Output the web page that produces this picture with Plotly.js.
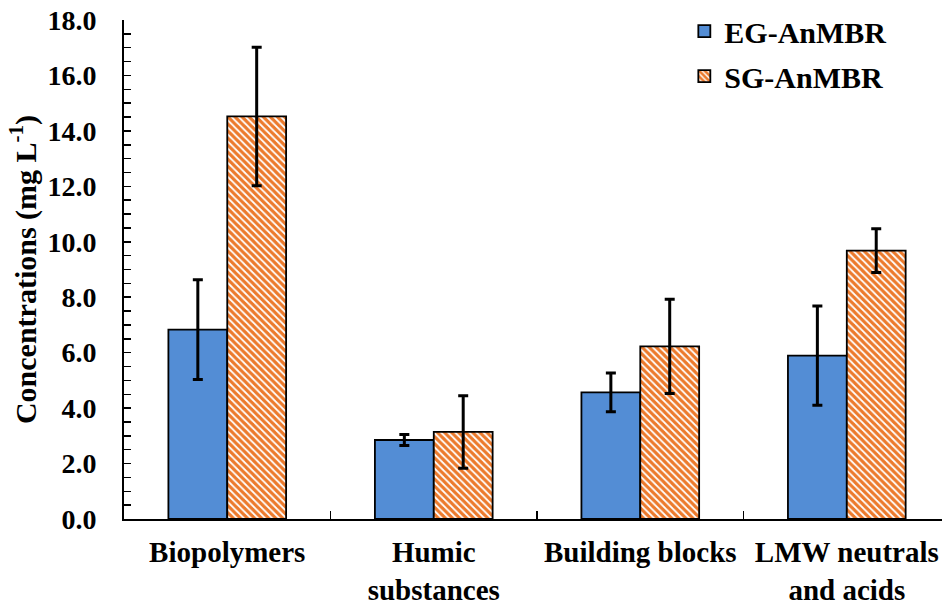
<!DOCTYPE html>
<html>
<head>
<meta charset="utf-8">
<script src="https://cdn.plot.ly/plotly-3.0.1.min.js"></script>
<style>html,body{margin:0;padding:0;background:#fff;}#chart{width:942px;height:603px;}</style>
</head>
<body>
<div id="chart"></div>
<script>
const categories = ["Biopolymers", "Humic<br>substances", "Building blocks", "LMW neutrals<br>and acids"];
const seriesNames = ["EG-AnMBR", "SG-AnMBR"];
const egValues = [6.83, 2.85, 4.57, 5.89];
const egErrors = [1.80, 0.20, 0.70, 1.79];
const sgValues = [14.52, 3.14, 6.23, 9.68];
const sgErrors = [2.50, 1.31, 1.70, 0.79];
const yTicks = [0, 2, 4, 6, 8, 10, 12, 14, 16, 18];

const FONT = "Liberation Serif, Times New Roman, serif";

const traces = [
  {
    type: "bar", name: seriesNames[0], x: categories, y: egValues,
    marker: {color: "#538DD5", line: {color: "#000", width: 1.8}},
    error_y: {type: "data", array: egErrors, visible: true, color: "#000", thickness: 3, width: 5},
    legendgroup: "a"
  },
  {
    type: "bar", name: seriesNames[1], x: categories, y: sgValues,
    marker: {color: "#ED7D31", line: {color: "#000", width: 1.8},
      pattern: {shape: "\\", fgcolor: "#EC7A2C", bgcolor: "#FFFFFF", size: 5, solidity: 0.65}},
    error_y: {type: "data", array: sgErrors, visible: true, color: "#000", thickness: 3, width: 5},
    legendgroup: "b"
  }
];

const layout = {
  width: 942, height: 603,
  margin: {l: 124, r: 0, t: 20, b: 84},
  paper_bgcolor: "#fff", plot_bgcolor: "#fff",
  barmode: "group", bargap: 0.43, bargroupgap: 0,
  font: {family: FONT, color: "#000", size: 28, weight: "bold"},
  showlegend: true,
  legend: {x: 0.685, y: 1.03, xanchor: "left", yanchor: "top", bgcolor: "rgba(0,0,0,0)",
    font: {family: FONT, size: 30, weight: "bold", color: "#000"},
    traceorder: "grouped", tracegroupgap: 3, itemwidth: 30},
  xaxis: {
    type: "category", range: [-0.5, 3.461], tickson: "boundaries",
    ticks: "inside", ticklen: 8, tickwidth: 1.5, tickcolor: "#000",
    showline: true, linecolor: "#000", linewidth: 2, showgrid: false, zeroline: false,
    tickfont: {family: FONT, size: 29, weight: "bold", color: "#000"},
    ticklabelstandoff: 6
  },
  yaxis: {
    range: [0, 18], tickvals: yTicks, tickformat: ".1f",
    ticks: "inside", ticklen: 7, tickwidth: 1.5, tickcolor: "#000",
    minor: {dtick: 0.5, ticks: "inside", ticklen: 7, tickwidth: 1.5, tickcolor: "#000"},
    showline: true, linecolor: "#000", linewidth: 2, showgrid: false, zeroline: false,
    tickfont: {family: FONT, size: 28, weight: "bold", color: "#000"},
    ticklabelstandoff: 20,
    title: {text: "Concentrations (mg L<sup>-1</sup>)", standoff: 2,
      font: {family: FONT, size: 30, weight: "bold", color: "#000"}}
  }
};

Plotly.newPlot("chart", traces, layout, {displayModeBar: false, staticPlot: true});
</script>
</body>
</html>
